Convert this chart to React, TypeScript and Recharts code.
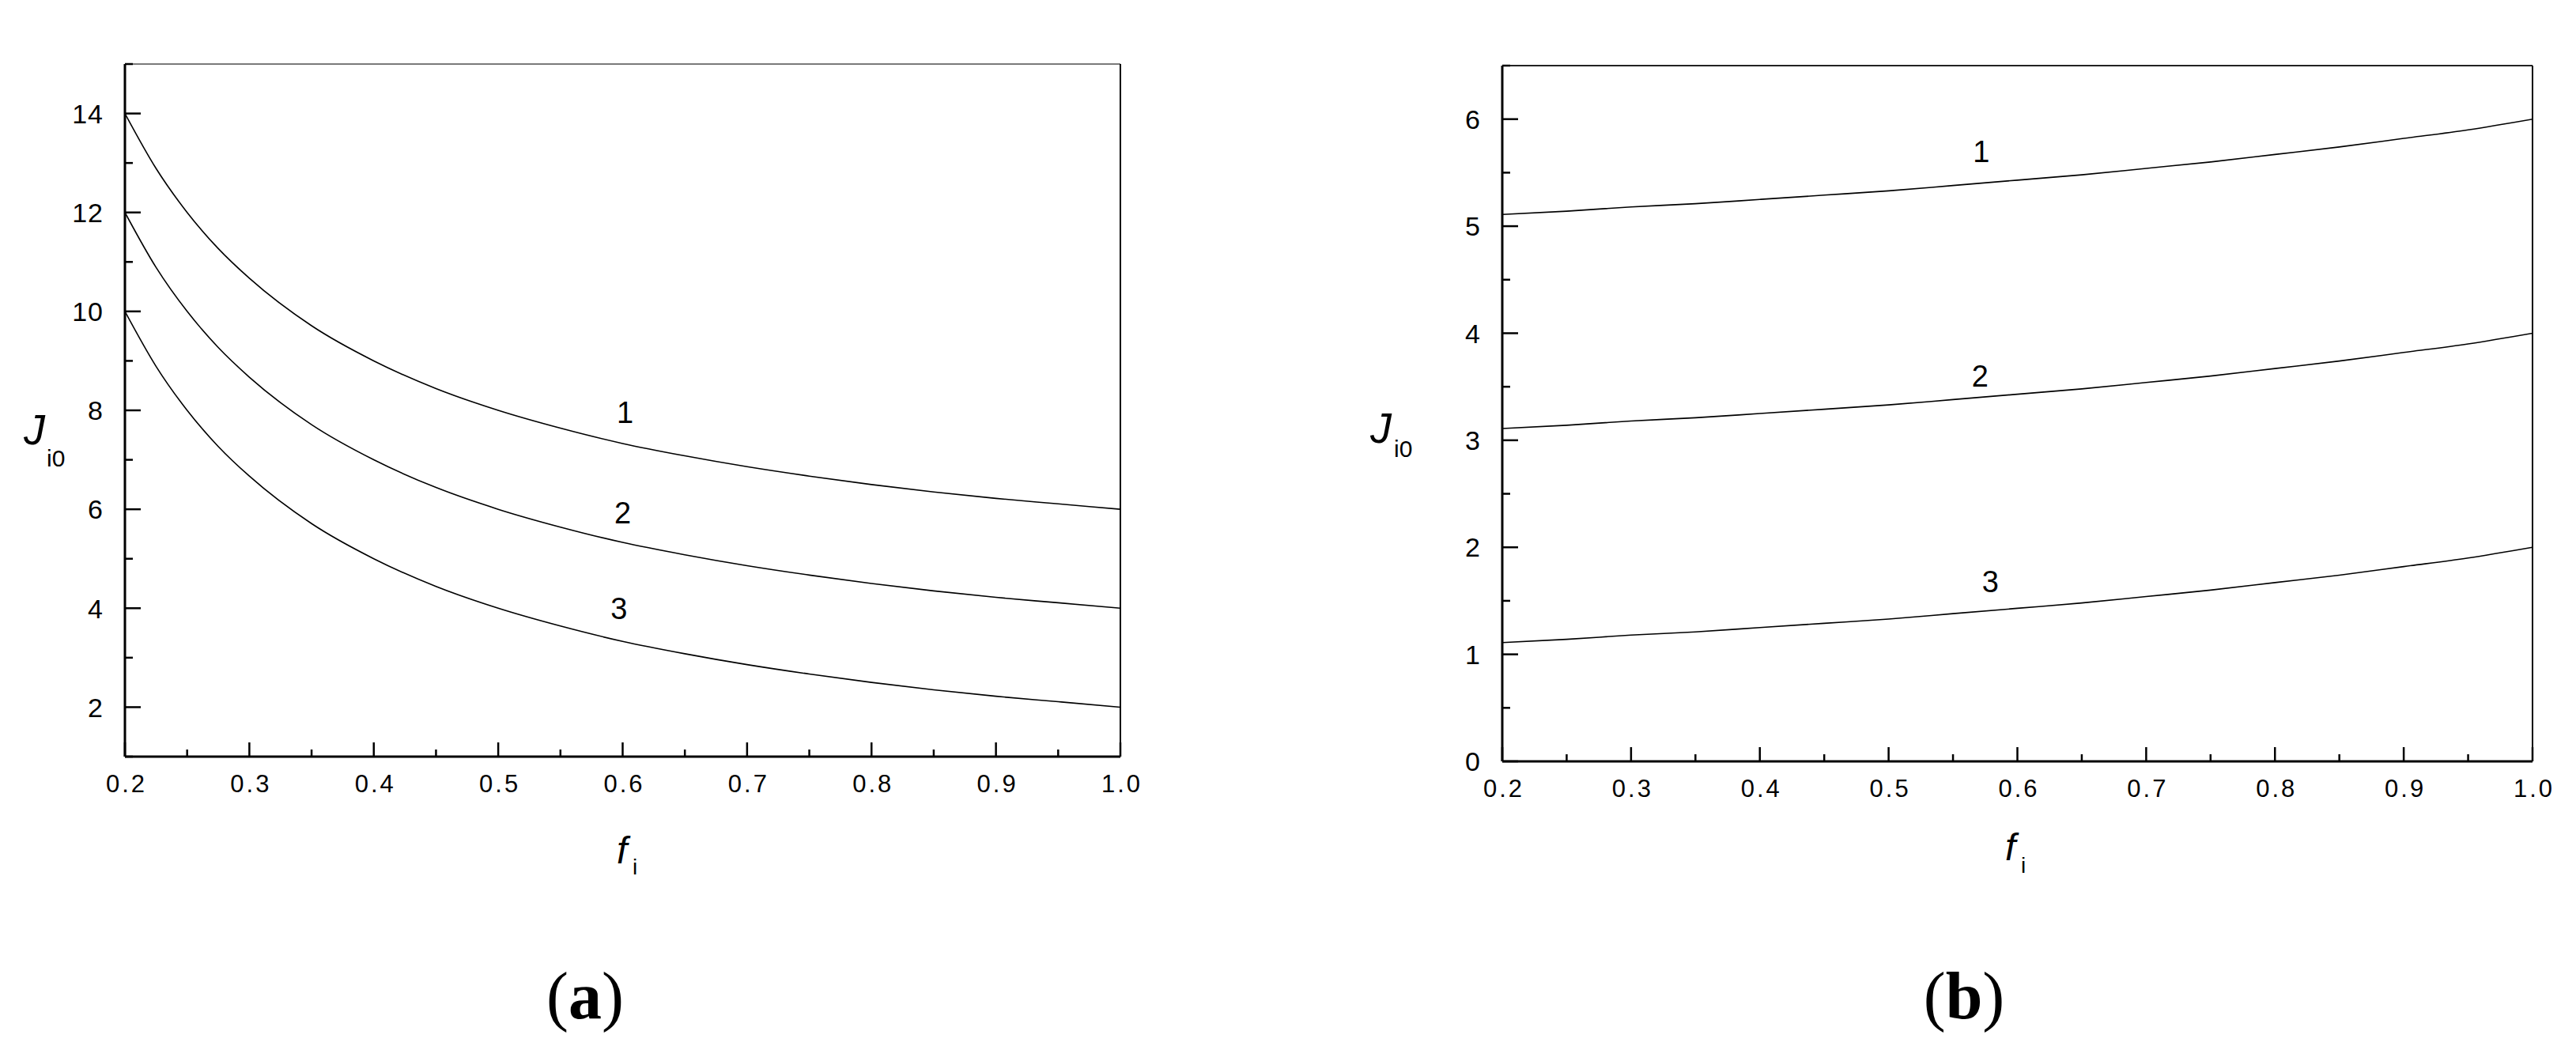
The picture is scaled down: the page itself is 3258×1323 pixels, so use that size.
import React from 'react';
import { LineChart, Line, XAxis, YAxis, ReferenceLine, ReferenceDot } from 'recharts';

// ---------- Panel (a) data ----------
const fA = [0.2, 0.225, 0.25, 0.275, 0.3, 0.35, 0.4, 0.45, 0.5, 0.55, 0.6, 0.65, 0.7, 0.75, 0.8, 0.85, 0.9, 0.95, 1.0];
const a1 = [14, 12.89, 12, 11.27, 10.67, 9.71, 9, 8.44, 8, 7.64, 7.33, 7.08, 6.86, 6.67, 6.5, 6.35, 6.22, 6.11, 6];
const a2 = [12, 10.89, 10, 9.27, 8.67, 7.71, 7, 6.44, 6, 5.64, 5.33, 5.08, 4.86, 4.67, 4.5, 4.35, 4.22, 4.11, 4];
const a3 = [10, 8.89, 8, 7.27, 6.67, 5.71, 5, 4.44, 4, 3.64, 3.33, 3.08, 2.86, 2.67, 2.5, 2.35, 2.22, 2.11, 2];

// ---------- Panel (b) data ----------
const fB = [0.2, 0.25, 0.3, 0.35, 0.4, 0.45, 0.5, 0.55, 0.6, 0.65, 0.7, 0.75, 0.8, 0.85, 0.9, 0.95, 1.0];
const b1 = [5.11, 5.14, 5.18, 5.21, 5.25, 5.29, 5.33, 5.38, 5.43, 5.48, 5.54, 5.6, 5.67, 5.74, 5.82, 5.9, 6.0];
const b2 = [3.11, 3.14, 3.18, 3.21, 3.25, 3.29, 3.33, 3.38, 3.43, 3.48, 3.54, 3.6, 3.67, 3.74, 3.82, 3.9, 4.0];
const b3 = [1.11, 1.14, 1.18, 1.21, 1.25, 1.29, 1.33, 1.38, 1.43, 1.48, 1.54, 1.6, 1.67, 1.74, 1.82, 1.9, 2.0];

// ---------- ticks ----------
const xTicks = [0.2, 0.25, 0.3, 0.35, 0.4, 0.45, 0.5, 0.55, 0.6, 0.65, 0.7, 0.75, 0.8, 0.85, 0.9, 0.95, 1.0];
const xMajor = [0.2, 0.3, 0.4, 0.5, 0.6, 0.7, 0.8, 0.9, 1.0];
const xLabels = ['0.2', '0.3', '0.4', '0.5', '0.6', '0.7', '0.8', '0.9', '1.0'];
const yTicksA = [1, 2, 3, 4, 5, 6, 7, 8, 9, 10, 11, 12, 13, 14, 15];
const yMajorA = [2, 4, 6, 8, 10, 12, 14];
const yTicksB = [0, 0.5, 1, 1.5, 2, 2.5, 3, 3.5, 4, 4.5, 5, 5.5, 6, 6.5];
const yMajorB = [0, 1, 2, 3, 4, 5, 6];

// ---------- curve number labels ----------
const labelsA = [
  { name: '1', f: 0.602, J: 7.96 },
  { name: '2', f: 0.6, J: 5.94 },
  { name: '3', f: 0.597, J: 4.0 },
];
const labelsB = [
  { name: '1', f: 0.572, J: 5.7 },
  { name: '2', f: 0.571, J: 3.6 },
  { name: '3', f: 0.579, J: 1.685 },
];

const rowsA = fA.map((f, i) => ({ f, c1: a1[i], c2: a2[i], c3: a3[i] }));
const rowsB = fB.map((f, i) => ({ f, c1: b1[i], c2: b2[i], c3: b3[i] }));

const FONT = '"Liberation Sans", Arial, sans-serif';
const near = (a: number, b: number) => Math.abs(a - b) < 1e-6;

const makeXTick = () => (props: any) => {
  const { x, y, payload } = props;
  const v = payload.value;
  const idx = xMajor.findIndex((m) => near(m, v));
  const major = idx >= 0;
  return (
    <g>
      <line x1={x} x2={x} y1={y} y2={y - (major ? 18 : 9)} stroke="#000" strokeWidth={2.5} />
      {major && (
        <text x={x + 2} y={y + 45} textAnchor="middle" fontFamily={FONT} fontSize={31} letterSpacing={3} fill="#000">
          {xLabels[idx]}
        </text>
      )}
    </g>
  );
};

const makeYTick = (majors: number[]) => (props: any) => {
  const { x, y, payload } = props;
  const v = payload.value;
  const major = majors.some((m) => near(m, v));
  return (
    <g>
      <line x1={x} x2={x + (major ? 20 : 10)} y1={y} y2={y} stroke="#000" strokeWidth={2.5} />
      {major && (
        <text x={x - 27} y={y} dy="0.36em" textAnchor="end" fontFamily={FONT} fontSize={34} letterSpacing={1} fill="#000">
          {String(v)}
        </text>
      )}
    </g>
  );
};

const numLabel = (txt: string) => (p: any) => (
  <text x={p.cx} y={p.cy} dy="0.36em" textAnchor="middle" fontFamily={FONT} fontSize={38} fill="#000">
    {txt}
  </text>
);

function Panel(props: {
  rows: any[];
  yDomain: [number, number];
  yTicks: number[];
  yMajor: number[];
  labels: { name: string; f: number; J: number }[];
  width: number;
  height: number;
  margin: any;
  topColor: string;
}) {
  const { rows, yDomain, yTicks, yMajor, labels, width, height, margin, topColor } = props;
  return (
    <LineChart width={width} height={height} data={rows} margin={margin}>
      <XAxis
        dataKey="f"
        type="number"
        domain={[0.2, 1.0]}
        ticks={xTicks}
        interval={0}
        tickSize={0}
        tickMargin={0}
        tickLine={false}
        height={60}
        axisLine={{ stroke: '#000', strokeWidth: 3 }}
        tick={makeXTick()}
        allowDataOverflow
      />
      <YAxis
        type="number"
        domain={yDomain}
        ticks={yTicks}
        interval={0}
        tickSize={0}
        tickMargin={0}
        tickLine={false}
        width={60}
        axisLine={{ stroke: '#000', strokeWidth: 3 }}
        tick={makeYTick(yMajor)}
        allowDataOverflow
      />
      <ReferenceLine y={yDomain[1]} stroke={topColor} strokeWidth={2} />
      <ReferenceLine x={1.0} stroke="#000" strokeWidth={2} />
      <Line dataKey="c1" type="monotone" stroke="#000" strokeWidth={1.6} dot={false} isAnimationActive={false} />
      <Line dataKey="c2" type="monotone" stroke="#000" strokeWidth={1.6} dot={false} isAnimationActive={false} />
      <Line dataKey="c3" type="monotone" stroke="#000" strokeWidth={1.6} dot={false} isAnimationActive={false} />
      {labels.map((l) => (
        <ReferenceDot key={l.name} x={l.f} y={l.J} r={0} shape={numLabel(l.name)} />
      ))}
    </LineChart>
  );
}

export default function App() {
  return (
    <div style={{ position: 'absolute', left: 0, top: 0, width: 3258, height: 1323, background: '#fff' }}>
      <div style={{ position: 'absolute', left: 0, top: 0 }}>
        <Panel
          rows={rowsA}
          yDomain={[1, 15]}
          yTicks={yTicksA}
          yMajor={yMajorA}
          labels={labelsA}
          width={1500}
          height={1100}
          margin={{ top: 81, right: 83, bottom: 83, left: 98 }}
          topColor="#7a7a7a"
        />
      </div>
      <div style={{ position: 'absolute', left: 1700, top: 0 }}>
        <Panel
          rows={rowsB}
          yDomain={[0, 6.5]}
          yTicks={yTicksB}
          yMajor={yMajorB}
          labels={labelsB}
          width={1558}
          height={1100}
          margin={{ top: 83, right: 55, bottom: 77, left: 140 }}
          topColor="#222"
        />
      </div>
      <svg width={3258} height={1323} style={{ position: 'absolute', left: 0, top: 0, pointerEvents: 'none' }}>
        {/* Panel (a) axis titles */}
        <text x={30} y={562} fontFamily={FONT} fontStyle="italic" fontSize={54} fill="#000">J</text>
        <text x={59} y={590} fontFamily={FONT} fontSize={30} fill="#000">i0</text>
        <text x={780} y={1092} fontFamily={FONT} fontStyle="italic" fontSize={48} fill="#000">f</text>
        <text x={800} y={1106} fontFamily={FONT} fontSize={28} fill="#000">i</text>
        {/* Panel (b) axis titles */}
        <text x={1733} y={560} fontFamily={FONT} fontStyle="italic" fontSize={54} fill="#000">J</text>
        <text x={1763} y={578} fontFamily={FONT} fontSize={30} fill="#000">i0</text>
        <text x={2536} y={1088} fontFamily={FONT} fontStyle="italic" fontSize={48} fill="#000">f</text>
        <text x={2556} y={1104} fontFamily={FONT} fontSize={28} fill="#000">i</text>
        {/* Panel captions */}
        <text x={740} y={1288} textAnchor="middle" fontFamily='"Liberation Serif", "DejaVu Serif", serif' fontSize={84} fill="#000">
          (<tspan fontWeight="bold">a</tspan>)
        </text>
        <text x={2484} y={1288} textAnchor="middle" fontFamily='"Liberation Serif", "DejaVu Serif", serif' fontSize={84} fill="#000">
          (<tspan fontWeight="bold">b</tspan>)
        </text>
      </svg>
    </div>
  );
}
